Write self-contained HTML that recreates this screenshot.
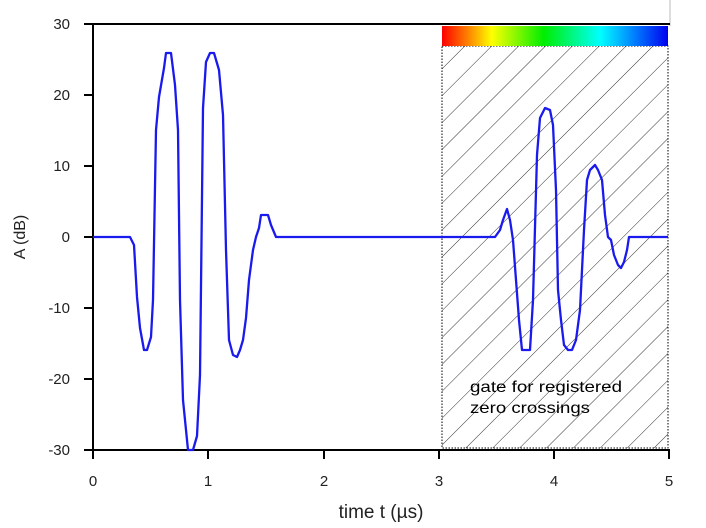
<!DOCTYPE html>
<html><head><meta charset="utf-8"><style>body{margin:0;background:#fff}</style></head><body>
<svg width="706" height="523" xmlns="http://www.w3.org/2000/svg" font-family="Liberation Sans, DejaVu Sans, sans-serif">
<defs>
<linearGradient id="g" x1="0" x2="1">
<stop offset="0" stop-color="#ff0000"/><stop offset="0.12" stop-color="#ff8800"/><stop offset="0.22" stop-color="#ffff00"/><stop offset="0.45" stop-color="#00ee00"/><stop offset="0.7" stop-color="#00ffff"/><stop offset="0.85" stop-color="#0080ff"/><stop offset="1" stop-color="#0000ee"/>
</linearGradient>
<pattern id="h" width="19" height="19" patternUnits="userSpaceOnUse" patternTransform="rotate(45)"><line x1="0" y1="0" x2="0" y2="19" stroke="#000" stroke-width="0.8"/></pattern>
</defs>
<rect x="442" y="46" width="226" height="402" fill="url(#h)"/>
<rect x="442" y="46" width="226" height="402" fill="none" stroke="#000" stroke-dasharray="1.5,1.5"/>
<rect x="442" y="26" width="226" height="20" fill="url(#g)"/>
<line x1="670" y1="0" x2="670" y2="26" stroke="#bbb"/>
<line x1="93" y1="24" x2="670" y2="24" stroke="#000" stroke-width="2"/>
<line x1="93" y1="24" x2="93" y2="450" stroke="#000" stroke-width="2"/>
<line x1="93" y1="450" x2="670" y2="450" stroke="#000" stroke-width="2"/>
<g stroke="#000" stroke-width="2">
<line x1="84" y1="24" x2="93" y2="24"/><line x1="84" y1="95" x2="93" y2="95"/><line x1="84" y1="166" x2="93" y2="166"/><line x1="84" y1="237" x2="93" y2="237"/><line x1="84" y1="308" x2="93" y2="308"/><line x1="84" y1="379" x2="93" y2="379"/><line x1="84" y1="450" x2="93" y2="450"/>
<line x1="93" y1="450" x2="93" y2="459"/><line x1="208" y1="450" x2="208" y2="459"/><line x1="324" y1="450" x2="324" y2="459"/><line x1="439" y1="450" x2="439" y2="459"/><line x1="554" y1="450" x2="554" y2="459"/><line x1="669" y1="450" x2="669" y2="459"/>
</g>
<g font-size="15" fill="#222" text-anchor="end">
<text x="70" y="29">30</text><text x="70" y="100">20</text><text x="70" y="171">10</text><text x="70" y="242">0</text><text x="70" y="313">-10</text><text x="70" y="384">-20</text><text x="70" y="455">-30</text>
</g>
<g font-size="15" fill="#222" text-anchor="middle">
<text x="93" y="486">0</text><text x="208" y="486">1</text><text x="324" y="486">2</text><text x="439" y="486">3</text><text x="554" y="486">4</text><text x="669" y="486">5</text>
</g>
<text x="381" y="518" font-size="19" text-anchor="middle" fill="#222">time t (µs)</text>
<text transform="translate(25,237) rotate(-90)" font-size="16" text-anchor="middle" fill="#222">A (dB)</text>
<text x="470" y="392" font-size="16" fill="#000" textLength="152" lengthAdjust="spacingAndGlyphs">gate for registered</text>
<text x="470" y="413" font-size="16" fill="#000" textLength="120" lengthAdjust="spacingAndGlyphs">zero crossings</text>
<polyline fill="none" stroke="#1a1aee" stroke-width="2.3" stroke-linejoin="round" points="93,237 130,237 134,245 137,297 140,328 144,350 147,350 151,337 153,300 156,130 159,97 164,68 166,53 171,53 175,85 178,130 180,300 183,400 186,430 188,450 193,450 197,436 200,375 203,108 206,62 210,53 214,53 219,70 223,115 226,250 229,340 233,355 237,357 240,350 243,340 246,318 249,280 253,250 256,237 259,228 261,215 268,215 271,225 276,237 495,237 500,230 503,220 507,209 510,220 513,240 516,280 519,320 522,350 525,350 530,350 533,300 537,155 540,118 545,108 550,110 553,125 556,190 558,290 561,320 564,345 568,350 572,350 576,340 580,310 584,230 587,180 590,170 595,165 598,170 602,180 605,215 608,237 611,240 614,255 618,265 621,268 624,262 627,250 629,237 668,237"/>
</svg>
</body></html>
